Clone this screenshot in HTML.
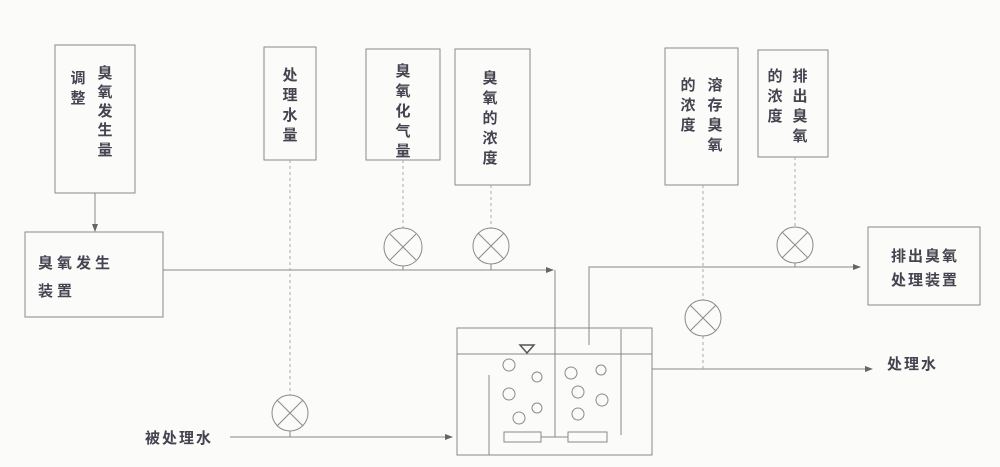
<!DOCTYPE html>
<html><head><meta charset="utf-8"><style>
body{margin:0;background:#fbfbfa;}
svg{display:block}
text{font-family:"Liberation Sans","Noto Sans CJK SC",sans-serif;font-size:15px;fill:#444450;font-weight:bold;}
.b{fill:none;stroke:#8a8a8a;stroke-width:1}
.d{fill:none;stroke:#aaa;stroke-width:1;stroke-dasharray:3 3}
.l{fill:none;stroke:#888;stroke-width:1}
</style></head><body>
<svg width="1000" height="467" viewBox="0 0 1000 467">
<defs><marker id="a" markerWidth="8" markerHeight="8" refX="7" refY="4" orient="auto" markerUnits="userSpaceOnUse"><path d="M0,1 L8,4 L0,7 z" fill="#666"/></marker></defs>
<rect class="b" x="55" y="45" width="80" height="148"/>
<rect class="b" x="25" y="232" width="138" height="85"/>
<rect class="b" x="264" y="47" width="52" height="113"/>
<rect class="b" x="366" y="49" width="74" height="111"/>
<rect class="b" x="455" y="49" width="75" height="136"/>
<rect class="b" x="665" y="48" width="73" height="137"/>
<rect class="b" x="758" y="50" width="70" height="107"/>
<rect class="b" x="868" y="227" width="112" height="78"/>
<g text-anchor="middle">
<text x="105" y="78">臭</text><text x="105" y="97">氧</text><text x="105" y="116">发</text><text x="105" y="135">生</text><text x="105" y="155">量</text>
<text x="78" y="83">调</text><text x="78" y="103">整</text>
<text x="290" y="80">处</text><text x="290" y="100">理</text><text x="290" y="120">水</text><text x="290" y="140">量</text>
<text x="403" y="76">臭</text><text x="403" y="96">氧</text><text x="403" y="116">化</text><text x="403" y="136">气</text><text x="403" y="156">量</text>
<text x="490" y="83">臭</text><text x="490" y="103">氧</text><text x="490" y="123">的</text><text x="490" y="143">浓</text><text x="490" y="163">度</text>
<text x="715" y="90">溶</text><text x="715" y="110">存</text><text x="715" y="130">臭</text><text x="715" y="150">氧</text>
<text x="688" y="90">的</text><text x="688" y="110">浓</text><text x="688" y="130">度</text>
<text x="800" y="81">排</text><text x="800" y="101">出</text><text x="800" y="121">臭</text><text x="800" y="141">氧</text>
<text x="775" y="81">的</text><text x="775" y="101">浓</text><text x="775" y="121">度</text>
</g>
<text x="38" y="268" letter-spacing="4">臭氧发生</text>
<text x="38" y="296" letter-spacing="4">装置</text>
<text x="891" y="261" letter-spacing="2">排出臭氧</text>
<text x="891" y="285" letter-spacing="2">处理装置</text>
<text x="887" y="369" letter-spacing="2">处理水</text>
<text x="145" y="443" letter-spacing="2">被处理水</text>
<line class="l" x1="95" y1="193" x2="95" y2="231" marker-end="url(#a)"/>
<polyline class="l" points="163,270 553,270" marker-end="url(#a)"/>
<polyline class="l" points="555,270 555,437"/>
<polyline class="l" points="589,345 589,267 860,267" marker-end="url(#a)"/>
<polyline class="l" points="652,369 872,369" marker-end="url(#a)"/>
<polyline class="l" points="230,437 452,437" marker-end="url(#a)"/>
<line class="d" x1="290" y1="160" x2="290" y2="395"/>
<line class="l" x1="290" y1="431" x2="290" y2="437"/>
<line class="d" x1="403" y1="160" x2="403" y2="228"/>
<line class="l" x1="403" y1="266" x2="403" y2="270"/>
<line class="d" x1="491" y1="185" x2="491" y2="228"/>
<line class="l" x1="491" y1="264" x2="491" y2="270"/>
<line class="d" x1="795" y1="157" x2="795" y2="227"/>
<line class="l" x1="795" y1="263" x2="795" y2="267"/>
<line class="d" x1="703" y1="185" x2="703" y2="300"/>
<line class="d" x1="703" y1="336" x2="703" y2="369"/>
<g class="b">
<circle cx="290" cy="413" r="18"/><path d="M277,400 L303,426 M303,400 L277,426"/>
<circle cx="403" cy="247" r="19"/><path d="M390,234 L416,260 M416,234 L390,260"/>
<circle cx="491" cy="246" r="18"/><path d="M478,233 L504,259 M504,233 L478,259"/>
<circle cx="795" cy="245" r="18"/><path d="M782,232 L808,258 M808,232 L782,258"/>
<circle cx="703" cy="318" r="18"/><path d="M690,305 L716,331 M716,305 L690,331"/>
</g>
<rect class="b" x="457" y="328" width="195" height="127"/>
<line class="l" x1="457" y1="354" x2="652" y2="354"/>
<line class="l" x1="489" y1="375" x2="489" y2="455"/>
<line class="l" x1="621" y1="329" x2="621" y2="435"/>
<path d="M520,345 L534,345 L527,353 z" fill="none" stroke="#555" stroke-width="1.5"/>
<rect class="b" x="504" y="432" width="37" height="10"/>
<rect class="b" x="568" y="432" width="39" height="10"/>
<line class="l" x1="541" y1="437" x2="568" y2="437"/>
<g class="b">
<circle cx="509" cy="365" r="6"/><circle cx="537" cy="377" r="5"/><circle cx="509" cy="394" r="6"/><circle cx="537" cy="408" r="5"/><circle cx="519" cy="418" r="6"/>
<circle cx="571" cy="373" r="6"/><circle cx="601" cy="370" r="5"/><circle cx="578" cy="392" r="6"/><circle cx="602" cy="400" r="6"/><circle cx="578" cy="414" r="6"/>
</g>
</svg>
</body></html>
